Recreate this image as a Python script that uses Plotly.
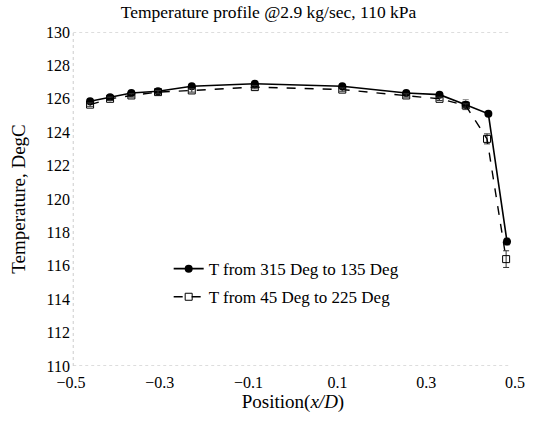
import plotly.graph_objects as go

# Data
pos_a = [-0.457, -0.412, -0.364, -0.304, -0.228, -0.086, 0.111, 0.255, 0.330, 0.389, 0.440, 0.482]
temp_a = [125.85, 126.1, 126.35, 126.45, 126.75, 126.9, 126.75, 126.35, 126.25, 125.65, 125.1, 117.45]
err_a = [0.1, 0.1, 0.1, 0.1, 0.1, 0.1, 0.1, 0.1, 0.1, 0.3, 0.1, 0.2]

pos_b = [-0.457, -0.412, -0.364, -0.304, -0.228, -0.086, 0.111, 0.255, 0.330, 0.389, 0.437, 0.480]
temp_b = [125.65, 126.0, 126.2, 126.4, 126.5, 126.7, 126.55, 126.2, 126.0, 125.6, 123.6, 116.4]
err_b = [0.1, 0.1, 0.1, 0.1, 0.1, 0.1, 0.1, 0.1, 0.1, 0.1, 0.3, 0.5]

name_a = "T from 315 Deg to 135 Deg"
name_b = "T from 45 Deg to 225 Deg"

xticks = [-0.5, -0.3, -0.1, 0.1, 0.3, 0.5]
yticks = list(range(110, 131, 2))

FONT = "Liberation Serif, Times New Roman, serif"

fig = go.Figure()
fig.add_trace(go.Scatter(
    x=pos_a, y=temp_a, name=name_a, mode="lines+markers",
    line=dict(color="black", width=1.6),
    marker=dict(symbol="circle", size=8, color="black"),
    error_y=dict(type="data", array=err_a, color="#888", thickness=1, width=3),
    legendgroup="a",
))
fig.add_trace(go.Scatter(
    x=pos_b, y=temp_b, name=name_b, mode="lines+markers",
    line=dict(color="black", width=1.4, dash="dash"),
    marker=dict(symbol="square-open", size=7, color="black", line=dict(width=1)),
    error_y=dict(type="data", array=err_b, color="#333", thickness=1, width=3),
    legendgroup="b",
))

# faint frame lines
for y0 in (110, 130):
    fig.add_shape(type="line", xref="paper", yref="y", x0=0.005, x1=0.985, y0=y0, y1=y0,
                  line=dict(color="#bbbbbb", width=1, dash="dot"), layer="below")
fig.add_shape(type="line", xref="paper", yref="y", x0=0.005, x1=0.005, y0=110, y1=130,
              line=dict(color="#cccccc", width=1, dash="dot"), layer="below")

fig.update_layout(
    width=537, height=421,
    margin=dict(l=71, r=17, t=32, b=55),
    paper_bgcolor="white", plot_bgcolor="white",
    font=dict(family=FONT, size=15, color="black"),
    title=dict(text="Temperature profile @2.9 kg/sec, 110 kPa", x=0.5, xanchor="center",
               y=0.971, yanchor="middle", font=dict(size=17.5, family=FONT)),
    xaxis=dict(range=[-0.5, 0.5], tickvals=xticks, ticktext=[f"{v:.1f}".replace("-", "\u2212") for v in xticks],
               showgrid=False, zeroline=False, showline=False, ticks="outside", ticklen=2,
               tickcolor="rgba(0,0,0,0)", ticklabeloverflow="allow", tickfont=dict(size=16),
               title=dict(text="Position(<i>x/D</i>)", standoff=3, font=dict(size=19))),
    yaxis=dict(range=[110, 130], tickvals=yticks, showgrid=False, zeroline=False,
               showline=False, ticks="", ticklen=0, tickfont=dict(size=16),
               title=dict(text="Temperature, DegC", standoff=15, font=dict(size=19))),
    legend=dict(x=0.22, y=0.344, xanchor="left", yanchor="top", bgcolor="rgba(0,0,0,0)",
                tracegroupgap=3, font=dict(size=17), itemwidth=30),
    showlegend=True,
)

fig.write_html("out.html", config={"displayModeBar": False},
               post_script="document.body.style.margin='0';document.body.style.padding='0';")
